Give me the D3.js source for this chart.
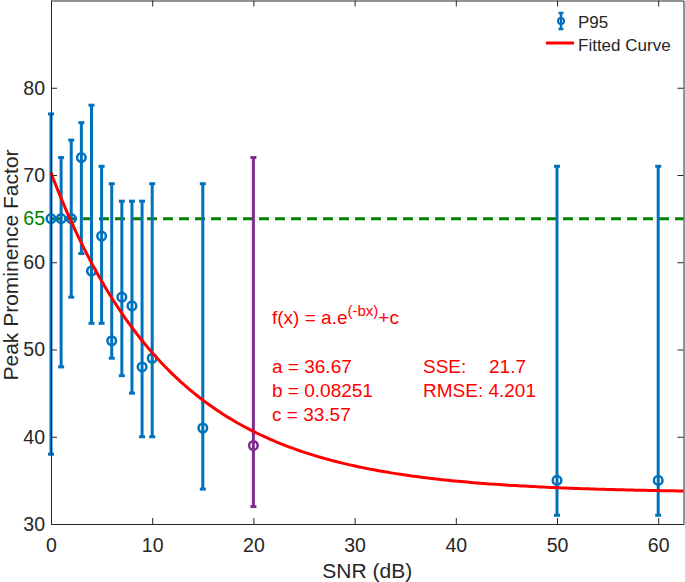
<!DOCTYPE html>
<html>
<head>
<meta charset="utf-8">
<script src="https://cdn.jsdelivr.net/npm/d3@7"></script>
<style>
  html, body { margin: 0; padding: 0; background: #fff; }
  svg { display: block; font-family: "Liberation Sans", Arial, Helvetica, sans-serif; }
</style>
</head>
<body>
<svg id="chart" width="685" height="582"></svg>
<script>
// ---- Data ----
const snr     = [0, 1, 2, 3, 4, 5, 6, 7, 8, 9, 10, 15, 20, 50, 60];
const p95     = [65, 65, 65, 72, 59, 63, 51, 56, 55, 48, 49, 41, 39, 35, 35];
const p95Low  = [38, 48, 56, 61, 53, 53, 49, 47, 45, 40, 40, 34, 32, 31, 31];
const p95High = [77, 72, 74, 76, 78, 71, 69, 67, 67, 67, 69, 69, 72, 71, 71];
const highlightX = [20];
const fitParams = { a: 36.67, b: 0.08251, c: 33.57 };
const thresholdY = 65;
const xTicks = [0, 10, 20, 30, 40, 50, 60];
const yTicks = [30, 40, 50, 60, 70, 80];
const xDomain = [0, 62.5];
const yDomain = [30, 90];

// ---- Layout ----
const W = 685, H = 582;
const m = { left: 51, top: 0.5, right: 1.5, bottom: 58 };
const pw = W - m.left - m.right, ph = H - m.top - m.bottom;
const svg = d3.select("#chart");
const g = svg.append("g").attr("transform", `translate(${m.left},${m.top})`);

const x = d3.scaleLinear().domain(xDomain).range([0, pw]);
const y = d3.scaleLinear().domain(yDomain).range([ph, 0]);

const axisColor = "#262626";
const blue = "#0072BD", purple = "#7E2F8E", red = "#FF0000", green = "#008000";

// ---- Fitted curve (from displayed fit coefficients) ----
const fitX = d3.range(0, 200).map(i => xDomain[0] + (xDomain[1] - xDomain[0]) * i / 199);
const fitLine = d3.line().x(d => x(d)).y(d => y(fitParams.a * Math.exp(-fitParams.b * d) + fitParams.c));

// ---- Threshold dashed line ----
g.append("line")
  .attr("x1", x(xDomain[0])).attr("x2", x(xDomain[1]))
  .attr("y1", y(thresholdY)).attr("y2", y(thresholdY))
  .attr("stroke", green).attr("stroke-width", 3).attr("stroke-dasharray", "10,6");

// ---- Error bars ----
const pts = snr.map((s, i) => ({ x: s, y: p95[i], lo: p95Low[i], hi: p95High[i], hl: highlightX.includes(s) }));
const capW = 3;
const eb = g.append("g");
pts.forEach(p => {
  const col = p.hl ? purple : blue;
  const gg = eb.append("g").attr("stroke", col).attr("stroke-width", 3).attr("fill", "none");
  gg.append("line").attr("x1", x(p.x)).attr("x2", x(p.x)).attr("y1", y(p.lo)).attr("y2", y(p.hi));
  gg.append("line").attr("x1", x(p.x) - capW).attr("x2", x(p.x) + capW).attr("y1", y(p.lo)).attr("y2", y(p.lo));
  gg.append("line").attr("x1", x(p.x) - capW).attr("x2", x(p.x) + capW).attr("y1", y(p.hi)).attr("y2", y(p.hi));
  gg.append("circle").attr("cx", x(p.x)).attr("cy", y(p.y)).attr("r", 4.3).attr("stroke-width", 2.5);
});

// fitted curve
g.append("path").datum(fitX).attr("d", fitLine)
  .attr("fill", "none").attr("stroke", red).attr("stroke-width", 3);

// ---- Axes ----
const fontTick = "19.5px";
const xAxis = d3.axisBottom(x).tickValues(xTicks).tickSizeInner(-6).tickSizeOuter(0).tickPadding(14);
const yAxis = d3.axisLeft(y).tickValues(yTicks).tickSizeInner(-6).tickSizeOuter(0).tickPadding(6);
const xAxisTop = d3.axisTop(x).tickValues(xTicks).tickSizeInner(-6).tickSizeOuter(0).tickFormat("");
const yAxisRight = d3.axisRight(y).tickValues(yTicks).tickSizeInner(-6).tickSizeOuter(0).tickFormat("");

function styleAxis(sel) {
  sel.selectAll("path").attr("stroke", axisColor).attr("stroke-width", 1);
  sel.selectAll("line").attr("stroke", axisColor).attr("stroke-width", 1);
  sel.selectAll("text").attr("fill", axisColor).style("font-size", fontTick).style("font-family", '"Liberation Sans", Arial, sans-serif');
}
g.append("g").attr("transform", `translate(0,${ph})`).call(xAxis).call(styleAxis);
g.append("g").call(yAxis).call(styleAxis);
g.append("g").call(xAxisTop).call(styleAxis);
g.append("g").attr("transform", `translate(${pw},0)`).call(yAxisRight).call(styleAxis);

// green 65 label
g.append("text").attr("x", -6).attr("y", y(thresholdY)).attr("dy", "0.35em")
  .attr("text-anchor", "end").attr("fill", green).style("font-size", fontTick).text(String(thresholdY));

// ---- Axis labels ----
svg.append("text").attr("x", m.left + pw / 2).attr("y", 578)
  .attr("text-anchor", "middle").attr("fill", axisColor).style("font-size", "21px").text("SNR (dB)");
svg.append("text").attr("transform", `translate(17.5,${265}) rotate(-90)`)
  .attr("text-anchor", "middle").attr("fill", axisColor).style("font-size", "21px").text("Peak Prominence Factor");

// ---- Annotation ----
const ann = g.append("g").attr("fill", red).style("font-size", "19px");
const ax0 = 221, ax1 = 372;
const fx = ann.append("text").attr("x", ax0).attr("y", 323);
fx.append("tspan").text("f(x) = a.e");
fx.append("tspan").attr("dy", -8).style("font-size", "15px").text("(-bx)");
fx.append("tspan").attr("dy", 8).text("+c");
ann.append("text").attr("x", ax0).attr("y", 372.5).text(`a = ${fitParams.a}`);
ann.append("text").attr("x", ax0).attr("y", 396.5).text(`b = ${fitParams.b}`);
ann.append("text").attr("x", ax0).attr("y", 420.5).text(`c = ${fitParams.c}`);
ann.append("text").attr("x", ax1).attr("y", 372.5).text("SSE:");
ann.append("text").attr("x", ax1 + 66).attr("y", 372.5).text("21.7");
ann.append("text").attr("x", ax1).attr("y", 396.5).text("RMSE: 4.201");

// ---- Legend ----
const lg = svg.append("g").style("font-size", "17px").attr("fill", axisColor);
const lx = 561;
const le = lg.append("g").attr("stroke", blue).attr("stroke-width", 2.5).attr("fill", "none");
le.append("line").attr("x1", lx).attr("x2", lx).attr("y1", 13).attr("y2", 29);
le.append("line").attr("x1", lx - 2.5).attr("x2", lx + 2.5).attr("y1", 13).attr("y2", 13);
le.append("line").attr("x1", lx - 2.5).attr("x2", lx + 2.5).attr("y1", 29).attr("y2", 29);
le.append("circle").attr("cx", lx).attr("cy", 21).attr("r", 3).attr("stroke-width", 2);
lg.append("text").attr("x", 578).attr("y", 27.5).text("P95");
lg.append("line").attr("x1", 546).attr("x2", 574).attr("y1", 43).attr("y2", 43)
  .attr("stroke", red).attr("stroke-width", 3);
lg.append("text").attr("x", 578).attr("y", 50.5).text("Fitted Curve");
</script>
</body>
</html>
